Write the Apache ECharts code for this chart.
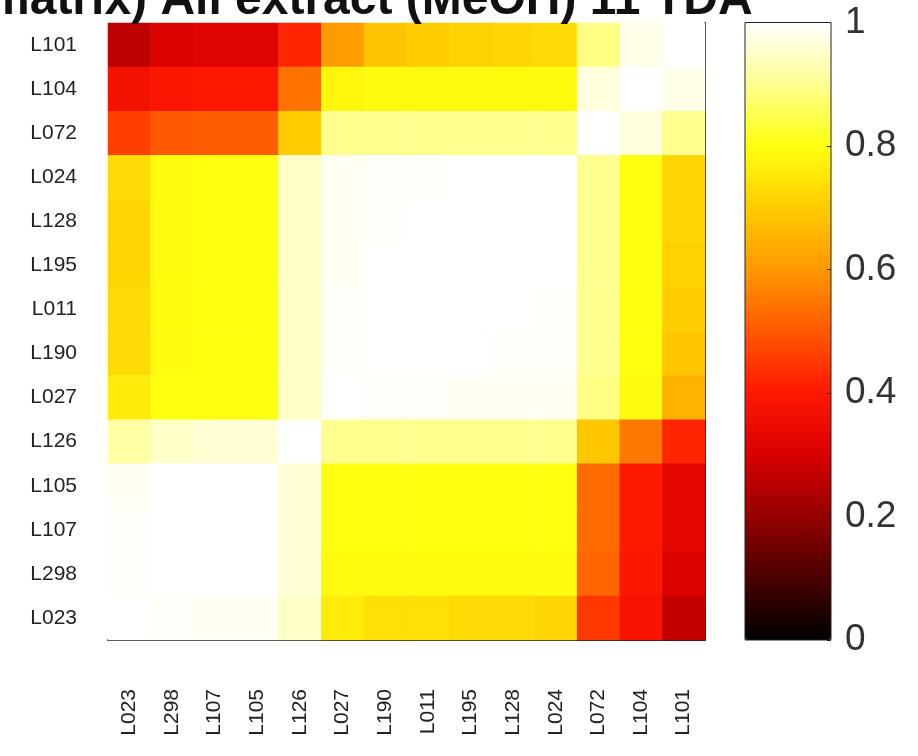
<!DOCTYPE html>
<html><head><meta charset="utf-8">
<script src="https://cdn.jsdelivr.net/npm/echarts@6/dist/echarts.min.js"></script>
<style>html,body{margin:0;padding:0;background:#fff}#c{width:918px;height:756px}</style>
</head><body><div id="c"></div>
<script>
// rows, top to bottom
const rowLabels = ['L101','L104','L072','L024','L128','L195','L011','L190','L027','L126','L105','L107','L298','L023'];
// columns, left to right
const colLabels = ['L023','L298','L107','L105','L126','L027','L190','L011','L195','L128','L024','L072','L104','L101'];
// one row per entry of rowLabels, columns in colLabels order
const rowL101 = [0.26,0.31,0.32,0.32,0.42,0.61,0.68,0.70,0.71,0.72,0.73,0.89,0.98,1.00];
const rowL104 = [0.37,0.39,0.40,0.40,0.54,0.78,0.79,0.79,0.79,0.79,0.79,0.97,1.00,0.98];
const rowL072 = [0.46,0.50,0.51,0.51,0.70,0.90,0.90,0.90,0.90,0.90,0.90,1.00,0.97,0.90];
const rowL024 = [0.73,0.79,0.80,0.80,0.95,0.99,0.995,0.995,1.00,1.00,1.00,0.90,0.80,0.72];
const rowL128 = [0.72,0.79,0.80,0.80,0.95,0.99,0.995,1.00,1.00,1.00,1.00,0.90,0.80,0.72];
const rowL195 = [0.72,0.79,0.80,0.80,0.95,0.99,1.00,1.00,1.00,1.00,1.00,0.90,0.80,0.71];
const rowL011 = [0.73,0.79,0.80,0.80,0.95,0.995,1.00,1.00,1.00,1.00,0.995,0.90,0.80,0.70];
const rowL190 = [0.73,0.79,0.80,0.80,0.95,0.995,1.00,1.00,1.00,0.995,0.995,0.90,0.80,0.69];
const rowL027 = [0.76,0.80,0.80,0.80,0.95,1.00,0.995,0.995,0.99,0.99,0.99,0.89,0.79,0.65];
const rowL126 = [0.92,0.95,0.96,0.96,1.00,0.90,0.90,0.90,0.90,0.90,0.90,0.69,0.55,0.42];
const rowL105 = [0.99,1.00,1.00,1.00,0.96,0.80,0.80,0.80,0.80,0.80,0.80,0.53,0.40,0.33];
const rowL107 = [0.995,1.00,1.00,1.00,0.96,0.80,0.80,0.80,0.80,0.80,0.80,0.53,0.40,0.33];
const rowL298 = [0.995,1.00,1.00,1.00,0.96,0.79,0.79,0.79,0.79,0.79,0.79,0.52,0.39,0.31];
const rowL023 = [1.00,0.995,0.99,0.99,0.95,0.76,0.74,0.74,0.73,0.73,0.72,0.45,0.38,0.27];
const matrixRows = [rowL101,rowL104,rowL072,rowL024,rowL128,rowL195,rowL011,rowL190,rowL027,rowL126,rowL105,rowL107,rowL298,rowL023];

const colorbarMin = 0, colorbarMax = 1, colorbarStep = 0.2;
const titleText = 'matrix) All extract (MeOH) 11 TDA';

const hotColors = ['#000000','#4a0000','#950000','#d80000','#ff1800','#ff5800','#ff9800','#ffcc00','#ffff10','#ffff90','#ffffff'];

const cells = [];
matrixRows.forEach((row, r) => row.forEach((v, c) => cells.push([c, r, v])));

const FONT = '"Liberation Sans", Arial, Helvetica, sans-serif';
const chart = echarts.init(document.getElementById('c'), null, {renderer: 'canvas'});
chart.setOption({
  backgroundColor: '#ffffff',
  animation: false,
  title: {
    text: titleText, left: -13, top: -23, padding: 0,
    textStyle: {fontSize: 48, fontWeight: 'bold', fontFamily: FONT, color: '#111'}
  },
  grid: [
    {left: 108, top: 23, width: 597, height: 617, outerBoundsMode: 'none'},
    {left: 745, top: 22.5, width: 86, height: 617.5, show: true, borderColor: '#222', borderWidth: 1,
     backgroundColor: 'transparent', z: 10, outerBoundsMode: 'none'}
  ],
  xAxis: [
    {type: 'category', gridIndex: 0, data: colLabels,
     axisLine: {show: true, lineStyle: {color: '#222', width: 2}},
     axisTick: {show: false}, splitLine: {show: false},
     axisLabel: {rotate: 90, fontSize: 21, color: '#222', fontFamily: FONT, margin: 49, interval: 0}},
    {type: 'value', gridIndex: 1, show: false, min: 0, max: 1}
  ],
  yAxis: [
    {type: 'category', gridIndex: 0, data: rowLabels, inverse: true,
     axisLine: {show: false}, axisTick: {show: false}, splitLine: {show: false},
     axisLabel: {fontSize: 21, color: '#222', fontFamily: FONT, margin: 31, interval: 0}},
    {type: 'category', gridIndex: 0, data: rowLabels, inverse: true, position: 'right',
     axisLine: {show: true, onZero: false, lineStyle: {color: '#222', width: 2}},
     axisTick: {show: false}, axisLabel: {show: false}, splitLine: {show: false}},
    {type: 'value', gridIndex: 1, min: colorbarMin, max: colorbarMax, interval: colorbarStep, position: 'right',
     axisLine: {show: false, onZero: false}, splitLine: {show: false}, z: 10,
     axisTick: {show: true, inside: true, length: 4, lineStyle: {color: '#222'}},
     axisLabel: {fontSize: 37, color: '#333', fontFamily: FONT, margin: 14,
                 formatter: v => String(Math.round(v * 10) / 10)}}
  ],
  visualMap: {
    type: 'continuous', min: colorbarMin, max: colorbarMax, calculable: false, show: true,
    orient: 'vertical', left: 745, top: 22.5, itemWidth: 86, itemHeight: 617.5, padding: 0,
    text: null, seriesIndex: 0, hoverLink: false,
    inRange: {color: hotColors}
  },
  series: [{
    type: 'heatmap', xAxisIndex: 0, yAxisIndex: 0, data: cells,
    itemStyle: {borderWidth: 0}, emphasis: {disabled: true}, progressive: 0
  }]
});
</script>
</body></html>
